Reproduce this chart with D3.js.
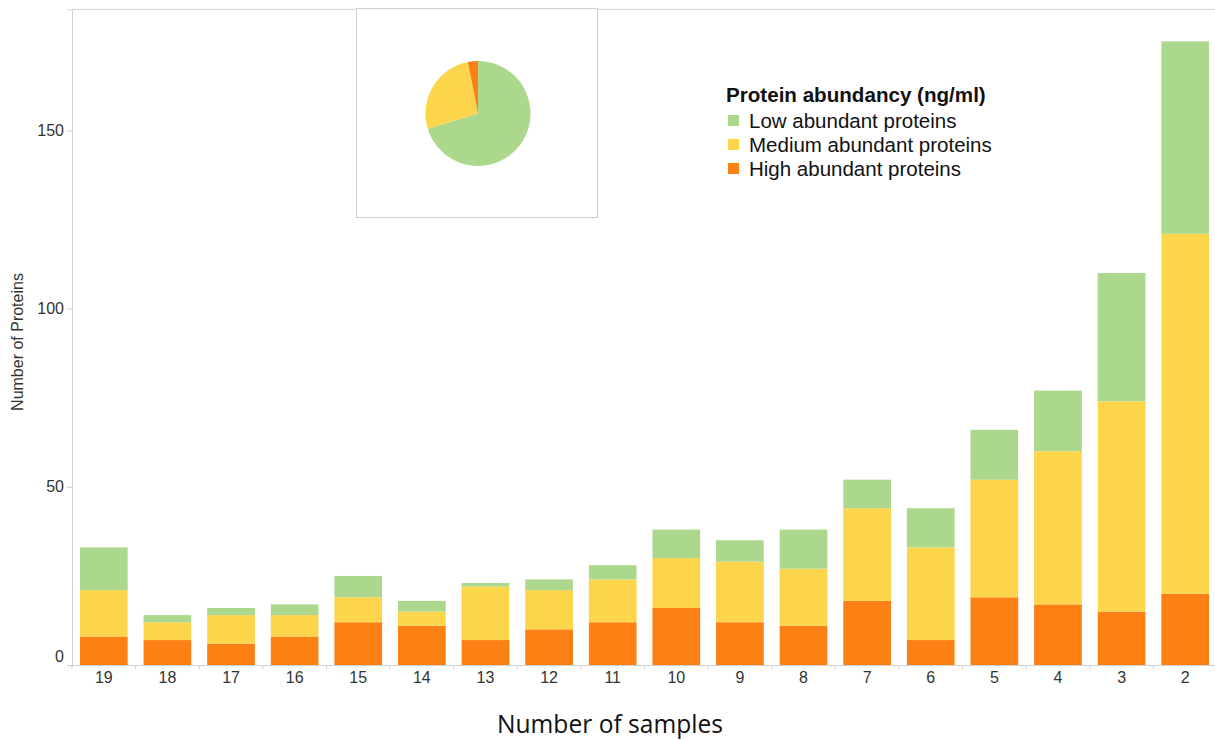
<!DOCTYPE html>
<html>
<head>
<meta charset="utf-8">
<script src="https://cdn.jsdelivr.net/npm/d3@7"></script>
<style>
  html, body { margin: 0; padding: 0; background: #fff; }
  svg { display: block; }
</style>
</head>
<body>
<svg id="chart" width="1215" height="740"></svg>
<script>
// ---- Data ----
const samples = ["19","18","17","16","15","14","13","12","11","10","9","8","7","6","5","4","3","2"];
const highAbundant   = [8, 7, 6, 8, 12, 11, 7, 10, 12, 16, 12, 11, 18, 7, 19, 17, 15, 20];
const mediumAbundant = [13, 5, 8, 6, 7, 4, 15, 11, 12, 14, 17, 16, 26, 26, 33, 43, 59, 101];
const lowAbundant    = [12, 2, 2, 3, 6, 3, 1, 3, 4, 8, 6, 11, 8, 11, 14, 17, 36, 54];
const yTicks = [0, 50, 100, 150];
const yMax = 184;
const legendTitle = "Protein abundancy (ng/ml)";
const seriesKeys = ["low", "medium", "high"];
const seriesLabels = ["Low abundant proteins", "Medium abundant proteins", "High abundant proteins"];
const seriesColors = ["#acd88d", "#fdd54b", "#fc8013"];
const pieValues = [70.3, 26.6, 3.1]; // low, medium, high (share)

// ---- Layout ----
const svg = d3.select("#chart");
const plot = { left: 72, right: 1217, top: 9.3, bottom: 665 };

const table = samples.map((s, i) => ({
  sample: s, high: highAbundant[i], medium: mediumAbundant[i], low: lowAbundant[i]
}));

const x = d3.scaleBand().domain(samples).range([plot.left, plot.right]).paddingInner(0.25).paddingOuter(0.125);
const y = d3.scaleLinear().domain([0, yMax]).range([plot.bottom, plot.top]);
const color = d3.scaleOrdinal().domain(seriesKeys).range(seriesColors);

// frame line
svg.append("line").attr("x1", plot.left).attr("x2", 1215).attr("y1", plot.top).attr("y2", plot.top)
  .attr("stroke", "#cfcfcf").attr("stroke-width", 1);

// bars
const stack = d3.stack().keys(["high", "medium", "low"]);
const layers = stack(table);
svg.append("g").selectAll("g").data(layers).join("g")
  .attr("fill", d => color(d.key))
  .selectAll("rect").data(d => d).join("rect")
  .attr("x", d => x(d.data.sample))
  .attr("width", x.bandwidth())
  .attr("y", d => y(d[1]))
  .attr("height", d => y(d[0]) - y(d[1]));

// y axis
const yAxis = svg.append("g").attr("transform", `translate(${plot.left},0)`)
  .call(d3.axisLeft(y).tickValues(yTicks).tickSize(5).tickPadding(3).tickFormat(d3.format("d")));
yAxis.select(".domain").attr("stroke", "#d0d0d0");
yAxis.selectAll(".tick line").attr("stroke", "#d0d0d0");
yAxis.selectAll(".tick text").attr("font-family", "Liberation Sans, Arial, sans-serif")
  .attr("font-size", 16).attr("fill", "#333")
  .attr("dy", d => d === 0 ? "-0.25em" : "0.32em");

// x axis
const xAxis = svg.append("g").attr("transform", `translate(0,${plot.bottom})`)
  .call(d3.axisBottom(x).tickSize(0).tickPadding(7));
xAxis.select(".domain").attr("stroke", "#d0d0d0");
xAxis.selectAll(".tick text").attr("font-family", "Liberation Sans, Arial, sans-serif")
  .attr("font-size", 16).attr("fill", "#333");
// boundary tick marks
const step = x.step();
const bounds = samples.map(s => x(s) - (step - x.bandwidth()) / 2).concat([x(samples[samples.length-1]) + x.bandwidth() + (step - x.bandwidth())/2]);
svg.append("g").selectAll("line").data(bounds).join("line")
  .attr("x1", d => d).attr("x2", d => d)
  .attr("y1", plot.bottom).attr("y2", plot.bottom + 4)
  .attr("stroke", "#d0d0d0");

// axis titles
svg.append("text")
  .attr("transform", `translate(23,342) rotate(-90)`)
  .attr("text-anchor", "middle")
  .attr("font-family", "Liberation Sans, Arial, sans-serif")
  .attr("font-size", 16).attr("fill", "#333")
  .text("Number of Proteins");

const xt = svg.append("text")
  .attr("x", 610).attr("y", 733)
  .attr("text-anchor", "middle")
  .attr("font-family", "Open Sans, Noto Sans, sans-serif")
  .attr("font-size", 24).attr("fill", "#111")
  .text("Number of samples");
const w0 = xt.node().getComputedTextLength();
xt.attr("font-size", 24 * 226 / w0);

// pie inset
svg.append("rect").attr("x", 356.5).attr("y", 8.5).attr("width", 241).attr("height", 209)
  .attr("fill", "#fff").attr("stroke", "#cfcfcf").attr("stroke-width", 1);
const pie = d3.pie().sort(null).value(d => d.v);
const arc = d3.arc().innerRadius(0).outerRadius(52.5);
svg.append("g").attr("transform", "translate(478,113.5)")
  .selectAll("path")
  .data(pie(seriesKeys.map((k, i) => ({ k, v: pieValues[i] }))))
  .join("path")
  .attr("d", arc)
  .attr("fill", d => color(d.data.k));

// legend
const lg = svg.append("g");
lg.append("text").attr("x", 726).attr("y", 102)
  .attr("font-family", "Liberation Sans, Arial, sans-serif")
  .attr("font-weight", "bold").attr("font-size", 20.6).attr("fill", "#111")
  .text(legendTitle);
const items = lg.selectAll("g.item").data(seriesKeys).join("g")
  .attr("class", "item")
  .attr("transform", (d, i) => `translate(728,${115 + i * 24})`);
items.append("rect").attr("width", 11).attr("height", 11).attr("fill", d => color(d));
items.append("text").attr("x", 21).attr("y", 12.5)
  .attr("font-family", "Liberation Sans, Arial, sans-serif")
  .attr("font-size", 20.5).attr("fill", "#111")
  .text((d, i) => seriesLabels[i]);
</script>
</body>
</html>
